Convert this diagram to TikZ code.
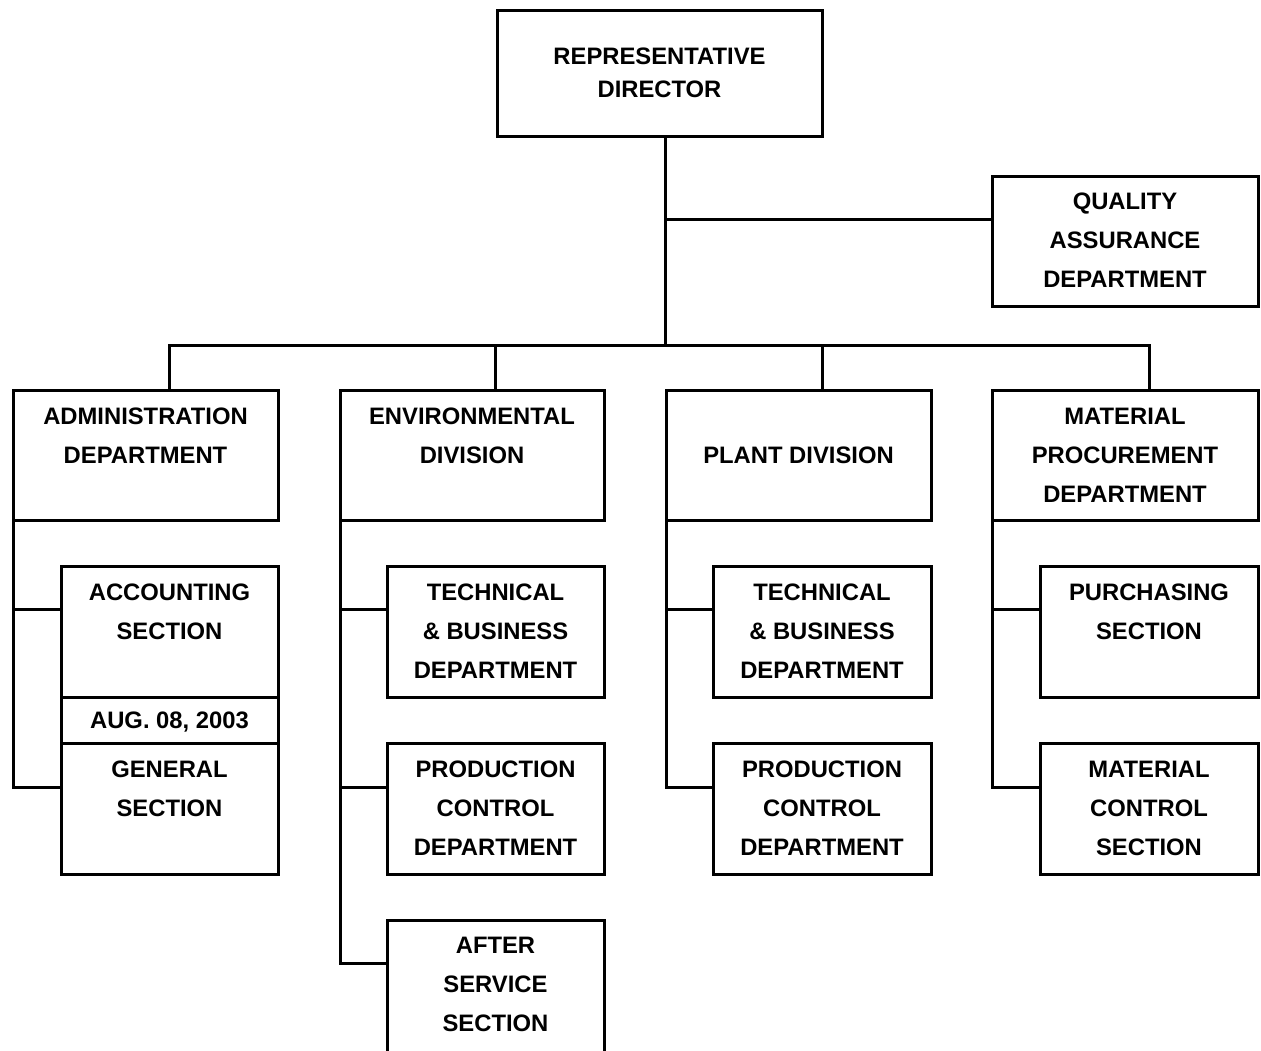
\documentclass[tikz,border=0pt]{standalone}
\usepackage{fontspec}
\setmainfont{Liberation Sans}
\usetikzlibrary{calc}
\begin{document}
\begin{tikzpicture}[x=1pt,y=-1pt,
  box/.style={draw, line width=3pt, rectangle, inner sep=0pt, outer sep=0pt, line join=miter},
  wire/.style={draw, line width=3pt, line join=miter},
  txt/.style={anchor=north, inner sep=0pt, align=center, font=\fontsize{23.8}{39}\bfseries\selectfont}]
\useasboundingbox (0,0) rectangle (1261,1050);
% boxes
\node[box, minimum width=325pt, minimum height=126pt] (top) at (659.5,73) {};
\node[box, minimum width=266pt, minimum height=130pt] (qa) at (1125,241) {};
\node[box, minimum width=265pt, minimum height=130pt] (adm) at (145.5,455) {};
\node[box, minimum width=264pt, minimum height=130pt] (env) at (472,455) {};
\node[box, minimum width=265pt, minimum height=130pt] (plt) at (798.5,455) {};
\node[box, minimum width=266pt, minimum height=130pt] (mat) at (1125,455) {};
% admin subs
\node[box, minimum width=217pt, minimum height=131pt] (acc) at (169.5,631.5) {};
\node[box, minimum width=217pt, minimum height=46pt] (date) at (169.5,720) {};
\node[box, minimum width=217pt, minimum height=131pt] (gen) at (169.5,808.5) {};
% env subs
\node[box, minimum width=217pt, minimum height=131pt] (etb) at (495.5,631.5) {};
\node[box, minimum width=217pt, minimum height=131pt] (epc) at (495.5,808.5) {};
\node[box, minimum width=217pt, minimum height=140pt] (eas) at (495.5,990) {};
% plant subs
\node[box, minimum width=218pt, minimum height=131pt] (ptb) at (822,631.5) {};
\node[box, minimum width=218pt, minimum height=131pt] (ppc) at (822,808.5) {};
% material subs
\node[box, minimum width=218pt, minimum height=131pt] (mpu) at (1149,631.5) {};
\node[box, minimum width=218pt, minimum height=131pt] (mmc) at (1149,808.5) {};
% texts
\node[txt, font=\fontsize{23.8}{33}\bfseries\selectfont] (topt) at ($(top.north)+(0,37.5)$) {REPRESENTATIVE\\DIRECTOR};
\node[txt] (qat) at ($(qa.north)+(0,16.5)$) {QUALITY\\ASSURANCE\\DEPARTMENT};
\node[txt] (admt) at ($(adm.north)+(0,17.5)$) {ADMINISTRATION\\DEPARTMENT};
\node[txt] (envt) at ($(env.north)+(0,17.5)$) {ENVIRONMENTAL\\DIVISION};
\node[txt] (pltt) at ($(plt.north)+(0,56.5)$) {PLANT DIVISION};
\node[txt] (matt) at ($(mat.north)+(0,17.5)$) {MATERIAL\\PROCUREMENT\\DEPARTMENT};
\node[txt] (acct) at ($(acc.north)+(0,17.5)$) {ACCOUNTING\\SECTION};
\node[txt] (datet) at ($(date.north)+(0,14.5)$) {AUG. 08, 2003};
\node[txt] (gent) at ($(gen.north)+(0,17.5)$) {GENERAL\\SECTION};
\node[txt] (etbt) at ($(etb.north)+(0,17.5)$) {TECHNICAL\\\& BUSINESS\\DEPARTMENT};
\node[txt] (epct) at ($(epc.north)+(0,17.5)$) {PRODUCTION\\CONTROL\\DEPARTMENT};
\node[txt] (east) at ($(eas.north)+(0,17)$) {AFTER\\SERVICE\\SECTION};
\node[txt] (ptbt) at ($(ptb.north)+(0,17.5)$) {TECHNICAL\\\& BUSINESS\\DEPARTMENT};
\node[txt] (ppct) at ($(ppc.north)+(0,17.5)$) {PRODUCTION\\CONTROL\\DEPARTMENT};
\node[txt] (mput) at ($(mpu.north)+(0,17.5)$) {PURCHASING\\SECTION};
\node[txt] (mmct) at ($(mmc.north)+(0,17.5)$) {MATERIAL\\CONTROL\\SECTION};
% coordinates
\coordinate (hub) at (665,345);
\coordinate (qab) at ($(qa.north west)+(0,43)$);
\coordinate (accb) at ($(acc.north west)+(0,43)$);
\coordinate (genb) at ($(gen.north west)+(0,44)$);
\coordinate (etbb) at ($(etb.north west)+(0,43)$);
\coordinate (epcb) at ($(epc.north west)+(0,44)$);
\coordinate (easb) at ($(eas.north west)+(0,43)$);
\coordinate (ptbb) at ($(ptb.north west)+(0,43)$);
\coordinate (ppcb) at ($(ppc.north west)+(0,44)$);
\coordinate (mpub) at ($(mpu.north west)+(0,43)$);
\coordinate (mmcb) at ($(mmc.north west)+(0,44)$);
% connectors
\draw[wire] (top.south -| hub) -- (hub);
\draw[wire] (qab -| hub) -- (qab);
\draw[wire] (acc.north |- adm.north) |- (mpu.north |- hub) -- (mpu.north |- mat.north);
\draw[wire] (etb.north |- hub) -- (etb.north |- env.north);
\draw[wire] (ptb.north |- hub) -- (ptb.north |- plt.north);
\draw[wire] (adm.south west) |- (genb);
\draw[wire] (adm.south west |- accb) -- (accb);
\draw[wire] (env.south west) |- (easb);
\draw[wire] (env.south west |- etbb) -- (etbb);
\draw[wire] (env.south west |- epcb) -- (epcb);
\draw[wire] (plt.south west) |- (ppcb);
\draw[wire] (plt.south west |- ptbb) -- (ptbb);
\draw[wire] (mat.south west) |- (mmcb);
\draw[wire] (mat.south west |- mpub) -- (mpub);
\end{tikzpicture}
\end{document}
